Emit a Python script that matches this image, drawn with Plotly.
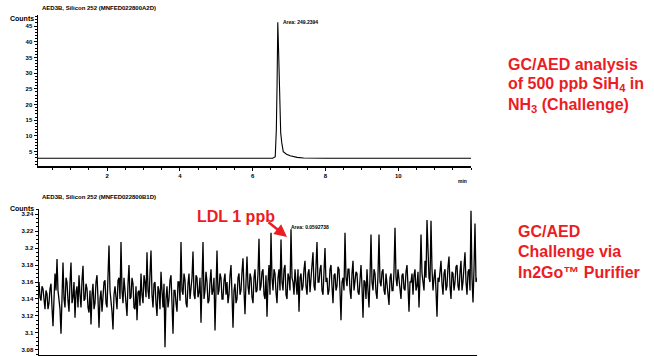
import plotly.graph_objects as go

W, H = 654, 356

# ---------------- data ----------------
# Top chromatogram (500 ppb SiH4 in NH3)
top_time = [0.1, 1.0, 2.0, 3.0, 4.0, 5.0, 6.0, 6.55, 6.62, 6.65, 6.67, 6.69, 6.71,
            6.735, 6.77, 6.80, 6.84, 6.93, 7.03, 7.22, 7.4, 8.0, 9.0, 10.0, 11.0, 12.0]
top_counts = [2.9, 2.9, 2.9, 2.9, 2.9, 2.9, 2.9, 2.9, 3.4, 12.0, 26.0, 46.2, 38.0,
              25.7, 11.0, 7.8, 5.0, 4.2, 3.7, 3.2, 3.0, 2.9, 2.9, 2.9, 2.9, 2.9]

# Bottom chromatogram (challenge via purifier) - noise
bottom_counts = [
    3.160, 3.142, 3.138, 3.155, 3.152, 3.133, 3.128, 3.150, 3.146, 3.128, 3.135, 3.152, 3.158, 3.130, 3.108, 3.140, 3.170, 3.150, 3.187, 3.150,
    3.140, 3.128, 3.099, 3.150, 3.183, 3.140, 3.130, 3.165, 3.160, 3.138, 3.125, 3.160, 3.183, 3.135, 3.142, 3.160, 3.118, 3.148, 3.155, 3.130,
    3.168, 3.145, 3.130, 3.162, 3.179, 3.138, 3.140, 3.158, 3.152, 3.130, 3.124, 3.150, 3.110, 3.145, 3.158, 3.128, 3.135, 3.160, 3.168, 3.140,
    3.106, 3.140, 3.150, 3.125, 3.138, 3.160, 3.162, 3.135, 3.130, 3.170, 3.203, 3.150, 3.140, 3.125, 3.104, 3.145, 3.155, 3.135, 3.128, 3.162,
    3.165, 3.140, 3.207, 3.150, 3.135, 3.165, 3.150, 3.125, 3.120, 3.158, 3.180, 3.140, 3.142, 3.165, 3.158, 3.130, 3.128, 3.155, 3.115, 3.148,
    3.150, 3.132, 3.170, 3.145, 3.135, 3.168, 3.160, 3.142, 3.195, 3.150, 3.140, 3.170, 3.197, 3.145, 3.130, 3.158, 3.160, 3.135, 3.120, 3.155,
    3.150, 3.128, 3.172, 3.150, 3.130, 3.158, 3.083, 3.140, 3.155, 3.130, 3.140, 3.162, 3.168, 3.135, 3.099, 3.150, 3.150, 3.135, 3.125, 3.160,
    3.160, 3.138, 3.207, 3.150, 3.145, 3.170, 3.162, 3.135, 3.130, 3.158, 3.170, 3.140, 3.150, 3.165, 3.196, 3.145, 3.140, 3.168, 3.165, 3.142,
    3.148, 3.165, 3.112, 3.150, 3.207, 3.140, 3.150, 3.172, 3.160, 3.135, 3.138, 3.160, 3.175, 3.145, 3.150, 3.165, 3.103, 3.150, 3.197, 3.145,
    3.150, 3.170, 3.165, 3.140, 3.140, 3.162, 3.170, 3.145, 3.160, 3.135, 3.145, 3.168, 3.180, 3.145, 3.106, 3.150, 3.158, 3.135, 3.140, 3.165,
    3.170, 3.145, 3.150, 3.172, 3.188, 3.150, 3.122, 3.160, 3.190, 3.155, 3.145, 3.170, 3.165, 3.142, 3.135, 3.165, 3.175, 3.148, 3.150, 3.170,
    3.211, 3.150, 3.155, 3.172, 3.175, 3.145, 3.140, 3.168, 3.119, 3.160, 3.180, 3.145, 3.218, 3.165, 3.150, 3.175, 3.170, 3.148, 3.135, 3.165,
    3.175, 3.150, 3.210, 3.160, 3.150, 3.175, 3.180, 3.145, 3.140, 3.170, 3.165, 3.150, 3.222, 3.165, 3.160, 3.145, 3.175, 3.160, 3.145, 3.175,
    3.125, 3.165, 3.170, 3.150, 3.155, 3.175, 3.185, 3.155, 3.145, 3.170, 3.175, 3.148, 3.160, 3.180, 3.195, 3.155, 3.150, 3.175, 3.207, 3.160,
    3.160, 3.175, 3.180, 3.150, 3.145, 3.172, 3.200, 3.160, 3.165, 3.145, 3.150, 3.175, 3.180, 3.155, 3.135, 3.168, 3.170, 3.150, 3.155, 3.178,
    3.175, 3.150, 3.115, 3.160, 3.165, 3.150, 3.218, 3.165, 3.155, 3.175, 3.175, 3.150, 3.140, 3.170, 3.185, 3.150, 3.160, 3.172, 3.170, 3.148,
    3.145, 3.170, 3.180, 3.155, 3.118, 3.162, 3.160, 3.140, 3.175, 3.150, 3.130, 3.165, 3.216, 3.160, 3.150, 3.175, 3.170, 3.148, 3.140, 3.168,
    3.216, 3.160, 3.155, 3.172, 3.175, 3.150, 3.145, 3.170, 3.160, 3.145, 3.133, 3.165, 3.170, 3.150, 3.150, 3.172, 3.224, 3.165, 3.155, 3.175,
    3.165, 3.150, 3.140, 3.168, 3.170, 3.152, 3.150, 3.172, 3.180, 3.155, 3.125, 3.160, 3.160, 3.170, 3.145, 3.168, 3.175, 3.150, 3.155, 3.172,
    3.130, 3.165, 3.216, 3.170, 3.160, 3.150, 3.185, 3.165, 3.233, 3.180, 3.165, 3.160, 3.232, 3.175, 3.150, 3.165, 3.175, 3.150, 3.119, 3.165,
    3.160, 3.172, 3.185, 3.158, 3.145, 3.170, 3.175, 3.150, 3.155, 3.178, 3.190, 3.155, 3.140, 3.172, 3.170, 3.150, 3.160, 3.178, 3.180, 3.155,
    3.150, 3.172, 3.185, 3.150, 3.160, 3.178, 3.195, 3.160, 3.145, 3.172, 3.175, 3.150, 3.244, 3.165, 3.136, 3.175, 3.229, 3.160, 3.165,
]
bt_start, bt_end = 0.1, 12.1
n = len(bottom_counts)
bottom_time = [bt_start + (bt_end - bt_start) * i / (n - 1) for i in range(n)]

top_yticks = [5, 10, 15, 20, 25, 30, 35, 40, 45]
top_xticks = [2, 4, 6, 8, 10]
bottom_yticks = [3.08, 3.10, 3.12, 3.14, 3.16, 3.18, 3.20, 3.22, 3.24]
bottom_yticklabels = ["3.08", "3.1", "3.12", "3.14", "3.16", "3.18", "3.2", "3.22", "3.24"]

# ---------------- helpers ----------------
def px(x):
    return x / W

def py(y):
    return 1 - y / H

RED = "#ec1c24"
SMALL = dict(family="Liberation Sans", size=6, color="black", weight="bold")

fig = go.Figure()
fig.add_trace(go.Scatter(x=top_time, y=top_counts, mode="lines",
                         line=dict(color="black", width=1.1), xaxis="x", yaxis="y",
                         showlegend=False, hoverinfo="skip"))
fig.add_trace(go.Scatter(x=bottom_time, y=bottom_counts, mode="lines",
                         line=dict(color="black", width=1.3), xaxis="x2", yaxis="y2",
                         showlegend=False, hoverinfo="skip"))

axis_common = dict(showgrid=False, zeroline=False, showline=True, linecolor="black",
                   linewidth=1.5, ticks="outside", ticklen=3, tickwidth=1,
                   tickcolor="black", tickfont=SMALL, automargin=False)

fig.update_layout(
    width=W, height=H, autosize=False,
    margin=dict(l=0, r=0, t=0, b=0),
    paper_bgcolor="white", plot_bgcolor="white",
    xaxis=dict(domain=[px(38), px(471)], range=[0.1, 12.0], anchor="y",
               tickvals=top_xticks, minor=dict(dtick=0.5, ticks="outside", ticklen=2,
                                                tickcolor="black"),
               **axis_common),
    yaxis=dict(domain=[py(166), py(15)], range=[0.45, 48.5], anchor="x",
               tickvals=top_yticks, minor=dict(dtick=1, ticks="outside", ticklen=2,
                                                tickcolor="black"),
               **axis_common),
    xaxis2=dict(domain=[px(39), px(477)], range=[bt_start, bt_end], anchor="y2",
                dtick=0.5, tick0=0, showticklabels=False, **axis_common),
    yaxis2=dict(domain=[py(355), py(209)], range=[3.074, 3.246], anchor="x2",
                tickvals=bottom_yticks, ticktext=bottom_yticklabels,
                minor=dict(dtick=0.005, ticks="outside", ticklen=2, tickcolor="black"),
                **axis_common),
)

def note(text, x, y, size=6, color="black", xanchor="left", yanchor="middle", weight="bold"):
    fig.add_annotation(text=text, x=px(x), y=py(y), xref="paper", yref="paper",
                       showarrow=False, xanchor=xanchor, yanchor=yanchor,
                       font=dict(family="Liberation Sans", size=size, color=color,
                                 weight=weight))

# small chart labels
note("AED3B, Silicon 252 (MNFED022800A2D)", 40, 8)
note("Counts", 8, 19, size=7)
note("Area: 249.2394", 281, 22, size=5)
note("min", 456, 181, size=5)
note("AED3B, Silicon 252 (MNFED022800B1D)", 40, 197)
note("Counts", 8, 208, size=7)
note("Area: 0.0592738", 289, 227, size=5)

# red captions
BIG = 16
note("GC/AED analysis", 506, 64, size=BIG, color=RED)
note("of 500 ppb SiH<sub>4</sub> in", 506, 85, size=BIG, color=RED)
note("NH<sub>3</sub> (Challenge)", 506, 105, size=BIG, color=RED)
note("GC/AED", 516, 231, size=BIG, color=RED)
note("Challenge via", 516, 252, size=BIG, color=RED)
note("In2Go\u2122 Purifier", 516, 272, size=BIG, color=RED)
note("LDL 1 ppb", 195, 216, size=BIG, color=RED)

# red arrow
fig.add_annotation(text="", x=px(287), y=py(237), xref="paper", yref="paper",
                   ax=-20, ay=-16, showarrow=True, arrowhead=2, arrowsize=1,
                   arrowwidth=2.5, arrowcolor=RED)

fig.write_html("out.html",
               config={"displayModeBar": False, "staticPlot": True},
               post_script="document.body.style.margin='0';document.body.style.overflow='hidden';")
